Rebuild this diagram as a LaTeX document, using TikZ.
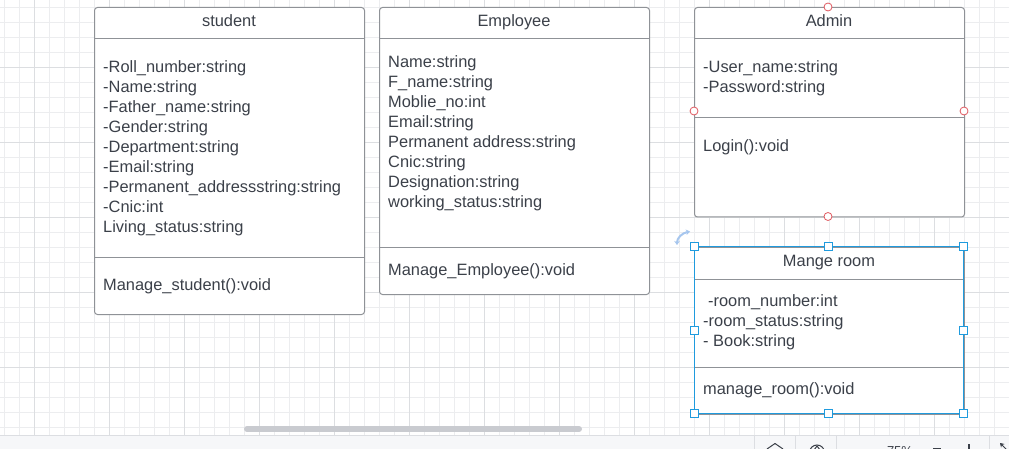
\documentclass[tikz,border=0pt]{standalone}
\usepackage{fontspec}
\setmainfont{Liberation Sans}
\usetikzlibrary{arrows.meta}
\definecolor{txt}{HTML}{3B4049}
\definecolor{bord}{HTML}{8F9297}
\definecolor{gridminor}{HTML}{ECEDEF}
\definecolor{gridmajor}{HTML}{DCDEE1}
\definecolor{selblue}{HTML}{1F9BDE}
\definecolor{redh}{HTML}{E0585F}
\definecolor{barbg}{HTML}{F6F7F9}
\definecolor{barline}{HTML}{DCDEE2}
\definecolor{scrollc}{HTML}{C9CBD0}
\definecolor{rotblue}{HTML}{A6C6EE}
\begin{document}
\begin{tikzpicture}[x=1pt,y=-1pt,
  classbox/.style={draw=bord, line width=1pt, rounded corners=3pt, fill=white, inner sep=0pt},
  sepline/.style={draw=bord, line width=1pt},
  attr/.style={anchor=base west, inner sep=0pt, text=txt, font=\fontsize{16.4}{20}\selectfont},
  ctitle/.style={anchor=base, inner sep=0pt, text=txt, font=\fontsize{16.4}{20}\selectfont},
  handle/.style={draw=selblue, fill=white, line width=1pt, minimum size=8pt, inner sep=0pt, rectangle},
  rhandle/.style={draw=redh, fill=white, line width=0.8pt, circle, minimum size=8pt, inner sep=0pt},
  tbtext/.style={anchor=north, inner sep=0pt, text=txt, font=\fontsize{13}{15}\selectfont}
]
\useasboundingbox (0,0) rectangle (1009,449);
\clip (0,0) rectangle (1009,449);
\fill[white] (0,0) rectangle (1009,449);
% grid
\foreach \x in {4,19,...,1009} \draw[gridminor, line width=0.8pt] (\x,0) -- (\x,435);
\foreach \y in {7,22,...,435} \draw[gridminor, line width=0.8pt] (0,\y) -- (1009,\y);
\foreach \x in {34,109,...,1009} \draw[gridmajor, line width=0.8pt] (\x,0) -- (\x,435);
\foreach \y in {67,142,...,435} \draw[gridmajor, line width=0.8pt] (0,\y) -- (1009,\y);

% student
\node[classbox, minimum width=270pt, minimum height=307pt, anchor=north west] (student) at (94,7) {};
\draw[sepline] (94,39) -- (364,39);
\draw[sepline] (94,257) -- (364,257);
\node[ctitle] (studentT) at (229,27) {student};
\foreach \t [count=\i] in {-Roll\_number:string,-Name:string,-Father\_name:string,-Gender:string,-Department:string,-Email:string,-Permanent\_addressstring:string,-Cnic:int,Living\_status:string}
  \node[attr] (sa\i) at (103,{72.5+20*(\i-1)}) {\t};
\node[attr] (sm1) at (103,290.5) {Manage\_student():void};

% Employee
\node[classbox, minimum width=270pt, minimum height=287pt, anchor=north west] (employee) at (379,7) {};
\draw[sepline] (379,39) -- (649,39);
\draw[sepline] (379,247) -- (649,247);
\node[ctitle] (employeeT) at (514,27) {Employee};
\foreach \t [count=\i] in {Name:string,F\_name:string,Moblie\_no:int,Email:string,Permanent address:string,Cnic:string,Designation:string,working\_status:string}
  \node[attr] (ea\i) at (388,{67.5+20*(\i-1)}) {\t};
\node[attr] (em1) at (388,275) {Manage\_Employee():void};

% Admin
\node[classbox, minimum width=270pt, minimum height=209.5pt, anchor=north west] (admin) at (694,7) {};
\draw[sepline] (694,39) -- (964,39);
\draw[sepline] (694,118) -- (964,118);
\node[ctitle] (adminT) at (829,27) {Admin};
\node[attr] (aa1) at (703,73) {-User\_name:string};
\node[attr] (aa2) at (703,93) {-Password:string};
\node[attr] (am1) at (703,152) {Login():void};
\node[rhandle] (ah1) at (828,7) {};
\node[rhandle] (ah2) at (694,111) {};
\node[rhandle] (ah3) at (964,111) {};
\node[rhandle] (ah4) at (828,216.5) {};

% Mange room
\node[classbox, rounded corners=0pt, minimum width=270pt, minimum height=167pt, anchor=north west] (room) at (694,246.5) {};
\draw[sepline] (694,279) -- (964,279);
\draw[sepline] (694,367) -- (964,367);
\node[ctitle] (roomT) at (829,266.5) {Mange room};
\node[attr] (ra1) at (708,306.5) {-room\_number:int};
\node[attr] (ra2) at (703,326.5) {-room\_status:string};
\node[attr] (ra3) at (703,346.5) {- Book:string};
\node[attr] (rm1) at (703,394.5) {manage\_room():void};
% selection
\draw[selblue, line width=1pt] (694,246.5) rectangle (963,413.5);
\node[handle] (h1) at (694,246.5) {};
\node[handle] (h2) at (828,246.5) {};
\node[handle] (h3) at (963,246.5) {};
\node[handle] (h4) at (694,330) {};
\node[handle] (h5) at (963,330) {};
\node[handle] (h6) at (694,413.5) {};
\node[handle] (h7) at (828,413.5) {};
\node[handle] (h8) at (963,413.5) {};
% rotate icon
\draw[rotblue, line width=2pt, {Stealth[length=4pt,width=5.5pt]}-{Stealth[length=4pt,width=5.5pt]}]
  (677,245) .. controls (677,238) and (682,233) .. (690,231.5);

% scrollbar
\draw[scrollc, line width=6pt, line cap=round] (247,429) -- (579,429);

% bottom toolbar
\fill[barbg] (0,435) rectangle (1009,449);
\draw[barline, line width=0.8pt] (0,435) -- (1009,435);
\foreach \x in {754,795,836,989} \draw[barline, line width=0.8pt] (\x,435) -- (\x,449);
\draw[txt, line width=1pt, line join=round] (767,449) -- (775,443.5) -- (783,449);
\draw[txt, line width=1pt] (817,452.5) circle (7.5pt);
\draw[txt, line width=1pt] (814,450) -- (817,446) -- (820,450);
\node[tbtext] (zoomlbl) at (900,446) {75\%};
\draw[txt, line width=1.2pt] (933,448.5) -- (941,448.5);
\draw[txt, line width=1.2pt] (969,444) -- (969,452);
\draw[txt, line width=1pt, -{Stealth[length=4pt,width=5pt]}] (1009,452) -- (1000,443);
\end{tikzpicture}
\end{document}
